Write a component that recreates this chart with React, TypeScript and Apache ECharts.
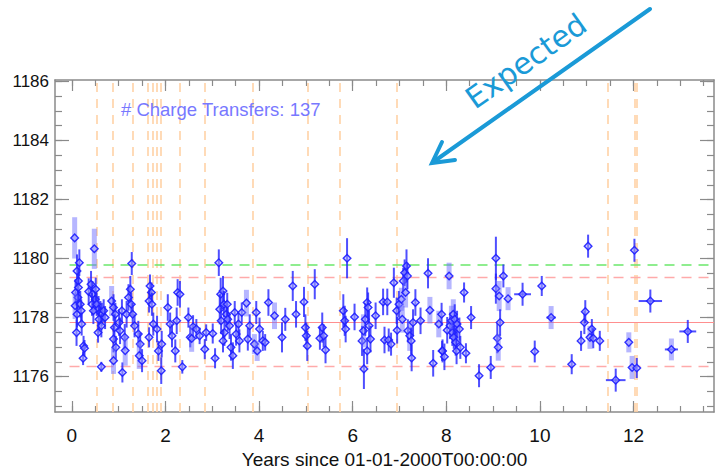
import React, { useEffect, useRef } from "react";
import * as echarts from "echarts";

// ---------- data ----------
const years = [
  0.06,0.11,0.14,0.08,0.13,0.07,0.18,0.11,0.20,0.10,0.21,0.25,0.27,0.24,0.16,0.14,
  0.48,0.36,0.41,0.44,0.50,0.43,0.53,0.57,0.61,0.64,0.68,0.58,0.63,0.56,0.63,0.46,0.71,0.51,
  0.85,0.89,0.93,0.91,0.89,0.94,0.89,1.01,1.03,1.07,1.08,1.13,1.14,1.17,
  1.28,1.25,1.21,1.27,1.30,1.34,1.42,1.46,1.44,1.50,
  1.67,1.70,1.65,1.71,1.65,1.74,1.82,1.85,1.91,1.92,
  2.05,2.10,2.14,2.21,2.26,2.31,2.36,2.24,2.49,2.53,
  2.59,2.56,2.66,2.73,2.84,2.87,3.01,3.06,
  3.14,3.18,3.16,3.19,3.23,3.25,3.26,3.23,3.30,3.33,3.32,3.37,3.40,3.44,3.48,3.51,3.56,3.58,3.63,
  3.73,3.76,3.80,3.90,3.94,3.96,4.01,4.08,4.13,4.20,4.33,4.49,4.56,4.72,4.79,4.96,4.99,5.01,5.03,5.19,
  5.35,5.30,5.38,5.42,5.80,5.83,5.85,5.88,6.04,
  6.20,6.23,6.24,6.27,6.31,6.33,6.35,6.38,6.31,6.49,6.65,6.68,6.74,6.77,6.82,6.88,6.94,6.95,6.99,
  7.04,7.06,7.08,7.11,7.15,7.13,7.17,7.18,7.22,7.25,7.26,7.29,7.34,7.45,7.61,7.65,7.72,7.84,7.90,7.91,
  8.06,7.92,7.96,8.02,8.08,8.11,8.13,8.15,8.16,8.18,8.20,8.22,8.23,8.28,8.30,8.38,8.42,8.53,8.70,8.95,
  9.06,9.06,9.09,9.11,9.13,9.15,9.22,9.32,9.63,9.89,10.04,10.24,
  10.68,10.88,10.95,10.97,11.03,11.07,11.11,11.14,11.28,11.62,11.90,11.97,12.07,12.02,12.36,12.81,13.16,
];

const values = [
  1180.70,1179.58,1179.24,1178.85,1178.68,1178.40,1178.45,1178.11,1178.23,1177.49,1177.78,1177.04,1176.96,1176.62,1179.86,1179.02,
  1180.33,1178.88,1179.13,1178.79,1178.62,1178.45,1178.45,1178.28,1178.17,1178.11,1178.23,1177.94,1177.72,1177.49,1176.33,1178.23,1178.00,1178.96,
  1178.56,1178.34,1178.11,1177.66,1177.27,1176.99,1176.54,1177.83,1177.55,1178.23,1176.14,1177.33,1176.88,1178.11,
  1179.83,1178.96,1178.68,1178.45,1178.11,1177.72,1177.44,1177.10,1176.71,1176.54,
  1179.07,1178.85,1178.56,1178.45,1177.33,1177.78,1177.61,1176.87,1176.20,1177.10,
  1178.34,1177.78,1177.38,1176.87,1178.85,1178.79,1176.33,1177.89,1178.00,1177.33,
  1177.69,1177.29,1177.61,1177.38,1176.93,1177.49,1177.46,1176.62,
  1179.86,1178.79,1178.28,1177.89,1178.90,1178.45,1177.49,1177.21,1178.11,1177.94,1178.45,1177.72,1176.99,1176.71,1178.17,1177.44,1177.78,1177.21,1178.17,
  1178.49,1177.27,1177.72,1177.10,1178.17,1176.87,1177.61,1177.21,1177.16,1178.51,1178.06,1177.33,1177.94,1179.07,1178.11,1178.53,1177.66,1177.38,1177.04,1179.13,
  1177.66,1177.30,1177.38,1176.90,1178.23,1177.89,1177.61,1180.01,1178.02,
  1177.21,1177.55,1176.26,1177.94,1178.51,1178.34,1177.72,1177.27,1176.87,1178.06,1178.53,1177.24,1178.53,1177.24,1177.10,1179.18,1178.23,1177.57,1178.45,
  1178.62,1177.94,1179.24,1179.52,1179.75,1178.85,1179.41,1177.55,1177.38,1177.21,1176.63,1177.83,1178.51,1177.89,1179.50,1178.25,1176.45,1177.78,1178.11,1176.87,
  1179.41,1176.87,1176.67,1177.57,1177.72,1177.89,1177.49,1178.11,1177.33,1177.94,1177.16,1176.87,1177.78,1177.61,1176.99,1178.85,1176.79,1178.00,1176.03,1176.31,
  1180.01,1178.98,1177.30,1176.99,1178.73,1177.83,1179.41,1178.64,1178.79,1176.85,1179.07,1178.00,
  1176.42,1177.21,1177.83,1178.20,1180.42,1177.33,1177.61,1177.30,1177.21,1175.88,1177.16,1176.31,1176.29,1180.28,1178.56,1176.92,1177.53,
];

const errors = [
  0.70,0.56,0.45,0.45,0.39,0.45,0.45,0.45,0.39,0.45,0.39,0.34,0.28,0.23,0.45,0.45,
  0.68,0.45,0.45,0.45,0.45,0.39,0.39,0.45,0.39,0.39,0.39,0.45,0.39,0.34,0.17,0.45,0.39,0.39,
  0.51,0.45,0.39,0.45,0.45,0.39,0.45,0.45,0.45,0.39,0.34,0.45,0.51,0.45,
  0.39,0.45,0.45,0.39,0.39,0.39,0.45,0.39,0.45,0.39,
  0.39,0.34,0.39,0.39,0.34,0.39,0.45,0.34,0.45,0.45,
  0.45,0.39,0.39,0.39,0.45,0.45,0.23,0.45,0.34,0.34,
  0.39,0.45,0.34,0.28,0.34,0.28,0.34,0.34,
  0.45,0.56,0.51,0.45,0.51,0.45,0.45,0.39,0.45,0.39,0.39,0.45,0.45,0.45,0.39,0.39,0.39,0.39,0.34,
  0.45,0.39,0.39,0.34,0.39,0.34,0.39,0.34,0.28,0.45,0.45,0.51,0.39,0.51,0.45,0.51,0.45,0.45,0.51,0.51,
  0.51,0.39,0.39,0.45,0.56,0.51,0.45,0.68,0.45,
  0.51,0.56,0.68,0.56,0.51,0.51,0.51,0.45,0.45,0.45,0.45,0.45,0.45,0.39,0.39,0.51,0.45,0.45,0.45,
  0.39,0.45,0.45,0.45,0.56,0.51,0.45,0.39,0.51,0.45,0.45,0.45,0.45,0.45,0.51,0.45,0.45,0.45,0.39,0.34,
  0.45,0.39,0.45,0.45,0.45,0.51,0.45,0.51,0.39,0.51,0.45,0.45,0.45,0.39,0.39,0.34,0.34,0.39,0.39,0.39,
  0.73,0.51,0.51,0.45,0.51,0.45,0.39,0.39,0.39,0.37,0.34,0.39,
  0.34,0.34,0.39,0.39,0.39,0.39,0.34,0.34,0.34,0.39,0.34,0.39,0.34,0.39,0.39,0.37,0.39,
];

const timeErrors = [
  0,0,0,0,0,0,0,0,0,0,0,0,0,0,0,0,
  0,0,0,0,0,0,0,0,0,0,0,0,0,0,0,0,0,0,
  0,0,0,0,0,0,0,0,0,0,0,0,0,0,
  0,0,0,0,0,0,0,0,0,0,
  0,0,0,0,0,0,0,0,0,0,
  0,0,0,0,0,0,0,0,0,0,
  0,0,0,0,0,0,0,0,
  0,0,0,0,0,0,0,0,0,0,0,0,0,0,0,0,0,0,0,
  0,0,0,0,0,0,0,0,0,0,0,0,0,0,0,0,0,0,0,0,
  0,0,0,0,0,0,0,0,0,
  0,0,0,0,0,0,0,0,0,0,0,0,0,0,0,0,0,0,0,
  0,0,0,0,0,0,0,0,0,0,0,0,0,0,0,0,0,0,0,0,
  0,0,0,0,0,0,0,0,0,0,0,0,0,0,0,0,0,0,0,0,
  0,0,0,0,0,0,0,0,0.18,0,0,0.10,
  0,0,0,0,0,0,0,0,0,0.21,0,0,0,0,0.25,0.14,0.18,
];

// 1 = drawn with the pale, wide error bar
const paleBars = [
  1,0,0,0,0,1,0,0,0,0,0,0,0,0,0,0,
  1,0,0,0,0,0,0,0,0,0,0,0,0,0,0,0,0,0,
  1,0,0,0,0,0,1,0,0,0,0,0,1,0,
  0,0,0,0,0,0,0,0,1,0,
  0,0,0,0,0,0,0,0,0,0,
  0,0,0,0,0,0,0,0,0,0,
  0,1,0,0,0,0,0,0,
  0,0,0,0,0,0,0,0,0,0,0,0,0,0,0,0,0,0,0,
  1,0,0,1,0,1,0,0,0,0,1,0,0,0,0,0,0,0,0,0,
  0,0,0,0,0,0,0,0,0,
  0,1,0,0,0,0,0,0,0,0,0,0,0,0,0,0,0,0,0,
  1,1,0,0,0,1,0,0,1,0,0,0,0,0,0,1,0,1,0,0,
  1,0,0,0,0,1,0,1,0,0,0,0,0,0,0,0,0,0,0,0,
  0,0,0,1,1,0,0,1,0,0,0,1,
  0,0,0,0,0,1,0,0,0,0,1,1,0,0,0,1,0,
];

const transferYears = [0.54, 0.87, 1.31, 1.63, 1.72, 1.81, 1.90, 2.31, 2.84, 3.87, 5.05, 5.72, 6.94, 11.46, 12.03, 12.08];

const meanLevel = 1177.85;
const lowerBand = 1176.35;
const upperBand = 1179.35;
const expectedLevel = 1179.8;

const xMajorTicks = [0, 2, 4, 6, 8, 10, 12];
const xMinorTicks = [0,0.5,1,1.5,2,2.5,3,3.5,4,4.5,5,5.5,6,6.5,7,7.5,8,8.5,9,9.5,10,10.5,11,11.5,12,12.5,13,13.5];
const yMajorTicks = [1176, 1178, 1180, 1182, 1184, 1186];
const yMinorTicks = [1175,1175.5,1176,1176.5,1177,1177.5,1178,1178.5,1179,1179.5,1180,1180.5,1181,1181.5,1182,1182.5,1183,1183.5,1184,1184.5,1185,1185.5,1186];

const X_MIN = -0.36;
const X_MAX = 13.72;
const Y_MIN = 1174.8;
const Y_MAX = 1186.05;

const AXIS_COLOR = "#8a8a8a";
const FONT = "Liberation Sans, Arial, sans-serif";

export default function App() {
  const ref = useRef<HTMLDivElement>(null);

  useEffect(() => {
    if (!ref.current) return;
    const chart = echarts.init(ref.current, null, { renderer: "svg" });

    const rows = years.map((x, i) => [x, values[i], errors[i], timeErrors[i], paleBars[i]]);

    const xAxisBase = (position: string, major: boolean, withLabel: boolean) => ({
      type: "value",
      position,
      min: X_MIN,
      max: X_MAX,
      axisLine: { show: !major, onZero: false, lineStyle: { color: AXIS_COLOR, width: 1.5 } },
      axisTick: {
        show: true,
        inside: true,
        length: major ? 11 : 6,
        customValues: major ? xMajorTicks : xMinorTicks,
        lineStyle: { color: AXIS_COLOR, width: 1.2 },
      },
      axisLabel: withLabel
        ? { show: true, customValues: xMajorTicks, color: "#111", fontSize: 19, fontFamily: FONT, margin: 14,
            formatter: (v: number) => String(v) }
        : { show: false },
      splitLine: { show: false },
    });

    const yAxisBase = (position: string, major: boolean, withLabel: boolean) => ({
      type: "value",
      position,
      min: Y_MIN,
      max: Y_MAX,
      axisLine: { show: !major, onZero: false, lineStyle: { color: AXIS_COLOR, width: 1.5 } },
      axisTick: {
        show: true,
        inside: true,
        length: major ? 14 : 7,
        customValues: major ? yMajorTicks : yMinorTicks,
        lineStyle: { color: AXIS_COLOR, width: 1.2 },
      },
      axisLabel: withLabel
        ? { show: true, customValues: yMajorTicks, color: "#111", fontSize: 17, fontFamily: FONT, margin: 6,
            formatter: (v: number) => String(v) }
        : { show: false },
      splitLine: { show: false },
    });

    const xBottomMajor: any = xAxisBase("bottom", true, true);
    xBottomMajor.name = "Years since 01-01-2000T00:00:00";
    xBottomMajor.nameLocation = "middle";
    xBottomMajor.nameGap = 27;
    xBottomMajor.nameTextStyle = { color: "#111", fontSize: 19, lineHeight: 19, fontFamily: FONT };

    const vLineData = transferYears.map((v) => ({ xAxis: v }));

    const hLine = (y: number, color: string, type: any, width: number) => [
      { coord: [-0.05, y], lineStyle: { color, type, width } },
      { coord: [X_MAX, y], lineStyle: { color, type, width } },
    ];

    const option: any = {
      animation: false,
      backgroundColor: "#ffffff",
      grid: { left: 55, top: 80, right: 1, bottom: 56, containLabel: false, outerBoundsMode: "none" },
      xAxis: [
        xAxisBase("bottom", false, false),
        xBottomMajor,
        xAxisBase("top", false, false),
        xAxisBase("top", true, false),
      ],
      yAxis: [
        yAxisBase("left", false, false),
        yAxisBase("left", true, true),
        yAxisBase("right", false, false),
        yAxisBase("right", true, false),
      ],
      series: [
        {
          type: "line",
          xAxisIndex: 0,
          yAxisIndex: 0,
          data: [],
          z: 1,
          silent: true,
          markLine: {
            silent: true,
            symbol: ["none", "none"],
            label: { show: false },
            animation: false,
            lineStyle: { color: "#ffd2a6", type: [9, 7], width: 1.6 },
            data: vLineData,
          },
        },
        {
          type: "line",
          xAxisIndex: 0,
          yAxisIndex: 0,
          data: [],
          z: 1,
          silent: true,
          markLine: {
            silent: true,
            symbol: ["none", "none"],
            label: { show: false },
            animation: false,
            data: [
              hLine(expectedLevel, "#6be86b", [10, 7], 1.5),
              hLine(upperBand, "#ffaaaa", [10, 7], 1.3),
              hLine(lowerBand, "#ffaaaa", [10, 7], 1.3),
              hLine(meanLevel, "#ff8f8f", "solid", 1.2),
            ],
          },
        },
        {
          type: "custom",
          xAxisIndex: 0,
          yAxisIndex: 0,
          z: 10,
          clip: true,
          data: rows,
          encode: { x: 0, y: 1 },
          renderItem: (_params: any, api: any) => {
            const x = api.value(0);
            const y = api.value(1);
            const e = api.value(2);
            const xe = api.value(3);
            const pale = api.value(4);
            const c = api.coord([x, y]);
            const t = api.coord([x, y + e]);
            const b = api.coord([x, y - e]);
            const children: any[] = [];
            if (pale) {
              children.push({
                type: "line",
                shape: { x1: c[0], y1: t[1], x2: c[0], y2: b[1] },
                style: { stroke: "rgba(110,110,255,0.5)", lineWidth: 5 },
              });
            } else {
              children.push({
                type: "line",
                shape: { x1: c[0], y1: t[1], x2: c[0], y2: b[1] },
                style: { stroke: "rgba(35,35,255,0.8)", lineWidth: 2 },
              });
            }
            if (xe > 0) {
              const l = api.coord([x - xe, y]);
              const r = api.coord([x + xe, y]);
              children.push({
                type: "line",
                shape: { x1: l[0], y1: c[1], x2: r[0], y2: c[1] },
                style: { stroke: "rgba(35,35,255,0.8)", lineWidth: 2 },
              });
            }
            const s = 3.8;
            children.push({
              type: "polygon",
              shape: { points: [[c[0], c[1] - s], [c[0] + s, c[1]], [c[0], c[1] + s], [c[0] - s, c[1]]] },
              style: { fill: "rgba(160,160,255,0.55)", stroke: "rgba(30,30,255,0.9)", lineWidth: 1.4 },
            });
            return { type: "group", children };
          },
        },
      ],
      graphic: [
        {
          type: "text",
          left: 121,
          top: 100,
          z: 20,
          style: {
            text: "# Charge Transfers: 137",
            fill: "#7878ff",
            font: `18.5px ${FONT}`,
          },
        },
        {
          type: "line",
          z: 30,
          shape: { x1: 650, y1: 9, x2: 436, y2: 160 },
          style: { stroke: "#1a9ad7", lineWidth: 4, lineCap: "round" },
        },
        {
          type: "polyline",
          z: 30,
          shape: { points: [[442, 142], [432, 163], [455, 160]] },
          style: { stroke: "#1a9ad7", lineWidth: 4, lineCap: "round", lineJoin: "miter", fill: null },
        },
        {
          type: "text",
          z: 30,
          x: 526,
          y: 61,
          rotation: 0.616,
          style: {
            text: "Expected",
            fill: "#1a9ad7",
            font: `30px DejaVu Sans, Verdana, sans-serif`,
            align: "center",
            verticalAlign: "middle",
          },
        },
      ],
    };

    chart.setOption(option);
    return () => chart.dispose();
  }, []);

  return (
    <div
      ref={ref}
      style={{ position: "fixed", left: 0, top: 0, width: 715, height: 468, background: "#fff" }}
    />
  );
}
